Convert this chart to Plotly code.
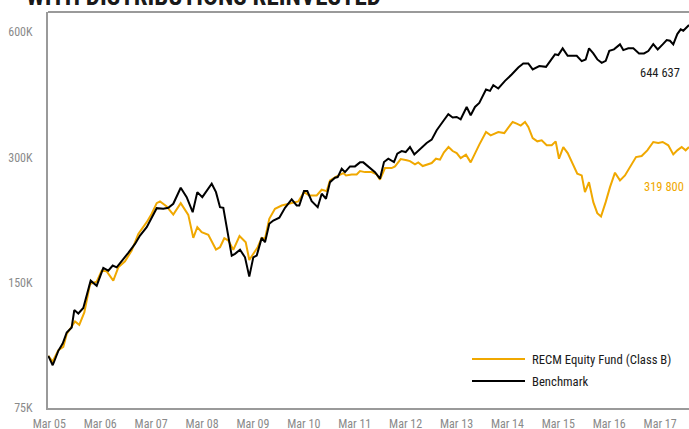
import plotly.graph_objects as go

# ---- data (decimal years, values in thousands) ----
bench_t = [2005.146, 2005.233, 2005.343, 2005.429, 2005.508, 2005.606, 2005.657, 2005.736, 2005.834, 2005.979,
           2006.097, 2006.227, 2006.325, 2006.412, 2006.490, 2006.588, 2006.718, 2006.850, 2006.948, 2007.080,
           2007.209, 2007.276, 2007.406, 2007.504, 2007.602, 2007.748, 2007.865, 2007.983, 2008.074, 2008.172,
           2008.357, 2008.441, 2008.520, 2008.585, 2008.750, 2008.814, 2008.913, 2009.011, 2009.095, 2009.174,
           2009.241, 2009.339, 2009.404, 2009.488, 2009.567, 2009.685, 2009.797, 2009.928, 2010.026, 2010.077,
           2010.170, 2010.235, 2010.321, 2010.439, 2010.518, 2010.602, 2010.681, 2010.779, 2010.832, 2010.911,
           2010.976, 2011.074, 2011.172, 2011.270, 2011.335, 2011.433, 2011.565, 2011.663, 2011.742, 2011.826,
           2011.938, 2012.003, 2012.089, 2012.168, 2012.252, 2012.337, 2012.449, 2012.580, 2012.679, 2012.777,
           2012.907, 2013.005, 2013.091, 2013.170, 2013.248, 2013.366, 2013.445, 2013.529, 2013.614, 2013.681,
           2013.746, 2013.824, 2013.889, 2013.987, 2014.119, 2014.250, 2014.380, 2014.478, 2014.577, 2014.663,
           2014.793, 2014.925, 2015.017, 2015.101, 2015.166, 2015.252, 2015.350, 2015.429, 2015.528, 2015.626,
           2015.704, 2015.770, 2015.854, 2015.933, 2016.019, 2016.098, 2016.168, 2016.260, 2016.378, 2016.443,
           2016.541, 2016.640, 2016.752, 2016.850, 2016.934, 2017.032, 2017.119, 2017.217, 2017.296, 2017.360,
           2017.425, 2017.504, 2017.571, 2017.622, 2017.689, 2017.734]
bench_v = [100.1, 95.0, 102.9, 107.1, 113.9, 117.1, 128.9, 126.5, 130.4, 151.7,
           147.5, 162.7, 160.3, 164.9, 163.3, 169.5, 176.9, 185.9, 194.7, 203.9,
           219.6, 226.5, 225.7, 227.0, 232.1, 253.6, 240.7, 221.5, 247.5, 240.7,
           259.3, 247.5, 227.7, 227.0, 174.2, 175.9, 179.9, 172.6, 155.1, 172.6,
           174.2, 192.2, 187.6, 207.7, 211.6, 214.8, 227.0, 237.7, 229.9, 229.9,
           248.9, 248.9, 235.4, 227.7, 245.4, 238.6, 261.6, 268.1, 269.0, 281.7,
           276.5, 285.4, 285.4, 291.8, 291.8, 285.4, 276.5, 266.6, 292.3, 297.8,
           292.3, 306.2, 310.7, 308.9, 317.6, 305.0, 314.8, 324.8, 330.9, 348.5,
           366.9, 380.8, 373.9, 375.1, 370.4, 396.5, 378.7, 396.5, 405.4, 420.7,
           436.7, 433.3, 447.2, 439.1, 458.0, 474.5, 493.3, 504.5, 504.5, 487.9,
           496.9, 494.9, 513.7, 530.3, 528.2, 548.2, 526.1, 526.1, 526.1, 510.9,
           515.7, 548.2, 533.2, 515.7, 506.2, 511.8, 540.9, 545.1, 560.5, 543.0,
           548.2, 548.2, 533.2, 533.2, 540.0, 561.4, 545.1, 560.5, 574.0, 571.8,
           560.5, 593.4, 609.1, 604.3, 617.9, 623.8]

fund_t = [2005.146, 2005.233, 2005.343, 2005.441, 2005.508, 2005.618, 2005.671, 2005.755, 2005.854, 2005.966,
          2006.097, 2006.196, 2006.294, 2006.423, 2006.522, 2006.653, 2006.785, 2006.915, 2007.080, 2007.178,
          2007.276, 2007.341, 2007.473, 2007.602, 2007.748, 2007.897, 2007.995, 2008.074, 2008.160, 2008.290,
          2008.441, 2008.520, 2008.604, 2008.683, 2008.781, 2008.903, 2009.025, 2009.095, 2009.174, 2009.260,
          2009.339, 2009.404, 2009.488, 2009.600, 2009.732, 2009.862, 2009.960, 2010.058, 2010.170, 2010.274,
          2010.419, 2010.518, 2010.616, 2010.681, 2010.813, 2010.942, 2010.995, 2011.107, 2011.205, 2011.270,
          2011.368, 2011.500, 2011.598, 2011.663, 2011.761, 2011.893, 2011.958, 2012.070, 2012.188, 2012.252,
          2012.350, 2012.415, 2012.502, 2012.592, 2012.679, 2012.763, 2012.842, 2012.920, 2013.009, 2013.091,
          2013.170, 2013.248, 2013.352, 2013.445, 2013.529, 2013.614, 2013.746, 2013.838, 2013.987, 2014.105,
          2014.184, 2014.270, 2014.349, 2014.428, 2014.512, 2014.577, 2014.663, 2014.754, 2014.840, 2014.938,
          2015.037, 2015.115, 2015.180, 2015.264, 2015.351, 2015.429, 2015.539, 2015.626, 2015.690, 2015.769,
          2015.854, 2015.932, 2016.005, 2016.097, 2016.182, 2016.280, 2016.378, 2016.476, 2016.575, 2016.693,
          2016.804, 2016.915, 2017.032, 2017.130, 2017.217, 2017.327, 2017.425, 2017.504, 2017.590, 2017.668,
          2017.734]
fund_v = [100.1, 97.0, 103.3, 105.2, 112.9, 118.2, 121.0, 118.8, 127.2, 148.9,
          150.8, 160.3, 159.7, 151.7, 163.3, 168.8, 179.2, 196.5, 209.6, 219.6,
          232.9, 235.1, 228.6, 218.7, 232.9, 218.3, 192.2, 203.9, 198.3, 195.5,
          180.2, 182.5, 191.8, 189.4, 179.9, 194.1, 187.6, 170.1, 176.5, 182.5,
          192.2, 191.2, 213.6, 225.7, 229.9, 232.1, 234.2, 235.1, 247.5, 243.0,
          243.0, 250.8, 248.9, 264.1, 270.0, 275.0, 271.5, 273.0, 273.0, 278.0,
          276.5, 276.5, 273.0, 265.1, 282.7, 282.7, 285.4, 297.2, 295.1, 293.9,
          288.6, 291.8, 285.9, 288.1, 290.7, 297.8, 296.2, 308.4, 317.6, 310.7,
          307.2, 298.8, 304.5, 291.8, 307.2, 321.9, 345.2, 338.9, 345.2, 343.2,
          353.7, 364.9, 361.7, 357.7, 364.9, 354.9, 333.9, 327.8, 329.7, 320.7,
          320.7, 327.8, 297.8, 317.6, 307.2, 292.3, 274.1, 271.5, 247.5, 261.6,
          234.2, 220.3, 216.3, 234.2, 254.4, 275.6, 264.1, 271.5, 285.4, 300.5,
          302.2, 311.9, 326.6, 324.8, 326.6, 320.7, 305.0, 311.9, 317.6, 311.9,
          317.6]

tick_years = [2005 + 2 / 12 + k for k in range(13)]
tick_text = ["Mar 05", "Mar 06", "Mar 07", "Mar 08", "Mar 09", "Mar 10", "Mar 11",
             "Mar 12", "Mar 13", "Mar 14", "Mar 15", "Mar 16", "Mar 17"]
y_ticks = [75000, 150000, 300000, 600000]
y_text = ["75K", "150K", "300K", "600K"]

fund_name = "RECM Equity Fund (Class B)"
bench_name = "Benchmark"
fund_end_label = "319 800"
bench_end_label = "644 637"
title = "WITH DISTRIBUTIONS REINVESTED"

ORANGE = "#F0A800"
BLACK = "#000000"
GRAY = "#9a9a9a"
FONT = "Roboto Condensed, Liberation Sans Narrow, DejaVu Sans Condensed, Roboto, sans-serif"

fig = go.Figure()
fig.add_trace(go.Scatter(x=fund_t, y=[v * 1000 for v in fund_v], mode="lines",
                         line=dict(color=ORANGE, width=2), name=fund_name, showlegend=False))
fig.add_trace(go.Scatter(x=bench_t, y=[v * 1000 for v in bench_v], mode="lines",
                         line=dict(color=BLACK, width=2), name=bench_name, showlegend=False))

W, H = 689, 429
L, R, T, B = 48, 0, 12, 21
pw = W - L - R
ph = H - T - B

def px(page_x):
    return (page_x - L) / pw

def py(page_y):
    return (H - B - page_y) / ph

fig.update_layout(
    width=W, height=H,
    margin=dict(l=L, r=R, t=T, b=B, autoexpand=False),
    paper_bgcolor="white", plot_bgcolor="white",
    font=dict(family=FONT, size=12, color="#222222"),
    xaxis=dict(range=[2005.1405, 2017.734], tickvals=tick_years, ticktext=tick_text, automargin=False,
               showgrid=False, zeroline=False, showline=True, linecolor=GRAY, linewidth=2,
               ticks="", ticklabelstandoff=4, tickfont=dict(color="#8a8a8a", size=12, family=FONT)),
    yaxis=dict(type="log", range=[4.87506, 5.8263], tickvals=y_ticks, ticktext=y_text, automargin=False,
               showgrid=False, zeroline=False, showline=True, linecolor=GRAY, linewidth=2,
               ticks="", ticklabelstandoff=11, tickfont=dict(color="#8a8a8a", size=12, family=FONT)),
    showlegend=False,
)

# top border
fig.add_shape(type="line", xref="paper", yref="paper", x0=0, x1=1, y0=1, y1=1,
              line=dict(color=GRAY, width=2))

# legend (custom)
fig.add_shape(type="line", xref="paper", yref="paper", x0=px(472), x1=px(525), y0=py(359), y1=py(359),
              line=dict(color=ORANGE, width=2))
fig.add_shape(type="line", xref="paper", yref="paper", x0=px(472), x1=px(525), y0=py(381), y1=py(381),
              line=dict(color=BLACK, width=2))
fig.add_annotation(xref="paper", yref="paper", x=px(530), y=py(359), xanchor="left", yanchor="middle",
                   text=fund_name, showarrow=False, font=dict(size=12.7, color="#1a1a1a", family=FONT))
fig.add_annotation(xref="paper", yref="paper", x=px(530), y=py(381), xanchor="left", yanchor="middle",
                   text=bench_name, showarrow=False, font=dict(size=12.7, color="#1a1a1a", family=FONT))

# end labels
fig.add_annotation(xref="paper", yref="paper", x=px(660), y=py(72), xanchor="center", yanchor="middle",
                   text=bench_end_label, showarrow=False, font=dict(size=12.5, color="#1a1a1a", family=FONT))
fig.add_annotation(xref="paper", yref="paper", x=px(664), y=py(186), xanchor="center", yanchor="middle",
                   text=fund_end_label, showarrow=False, font=dict(size=12.5, color=ORANGE, family=FONT))

# title, partly above the top edge as in the source
fig.add_annotation(xref="paper", yref="paper", x=px(24), y=1, xanchor="left", yanchor="bottom", yshift=-1.5,
                   text="<b>" + title + "</b>", showarrow=False,
                   font=dict(size=25, color="#1a1a1a", family=FONT))

# remove the browser's default body margin so the figure sits at the window's corner
fig.write_html("out.html", config={"displayModeBar": False},
               post_script="document.body.style.margin='0';")
